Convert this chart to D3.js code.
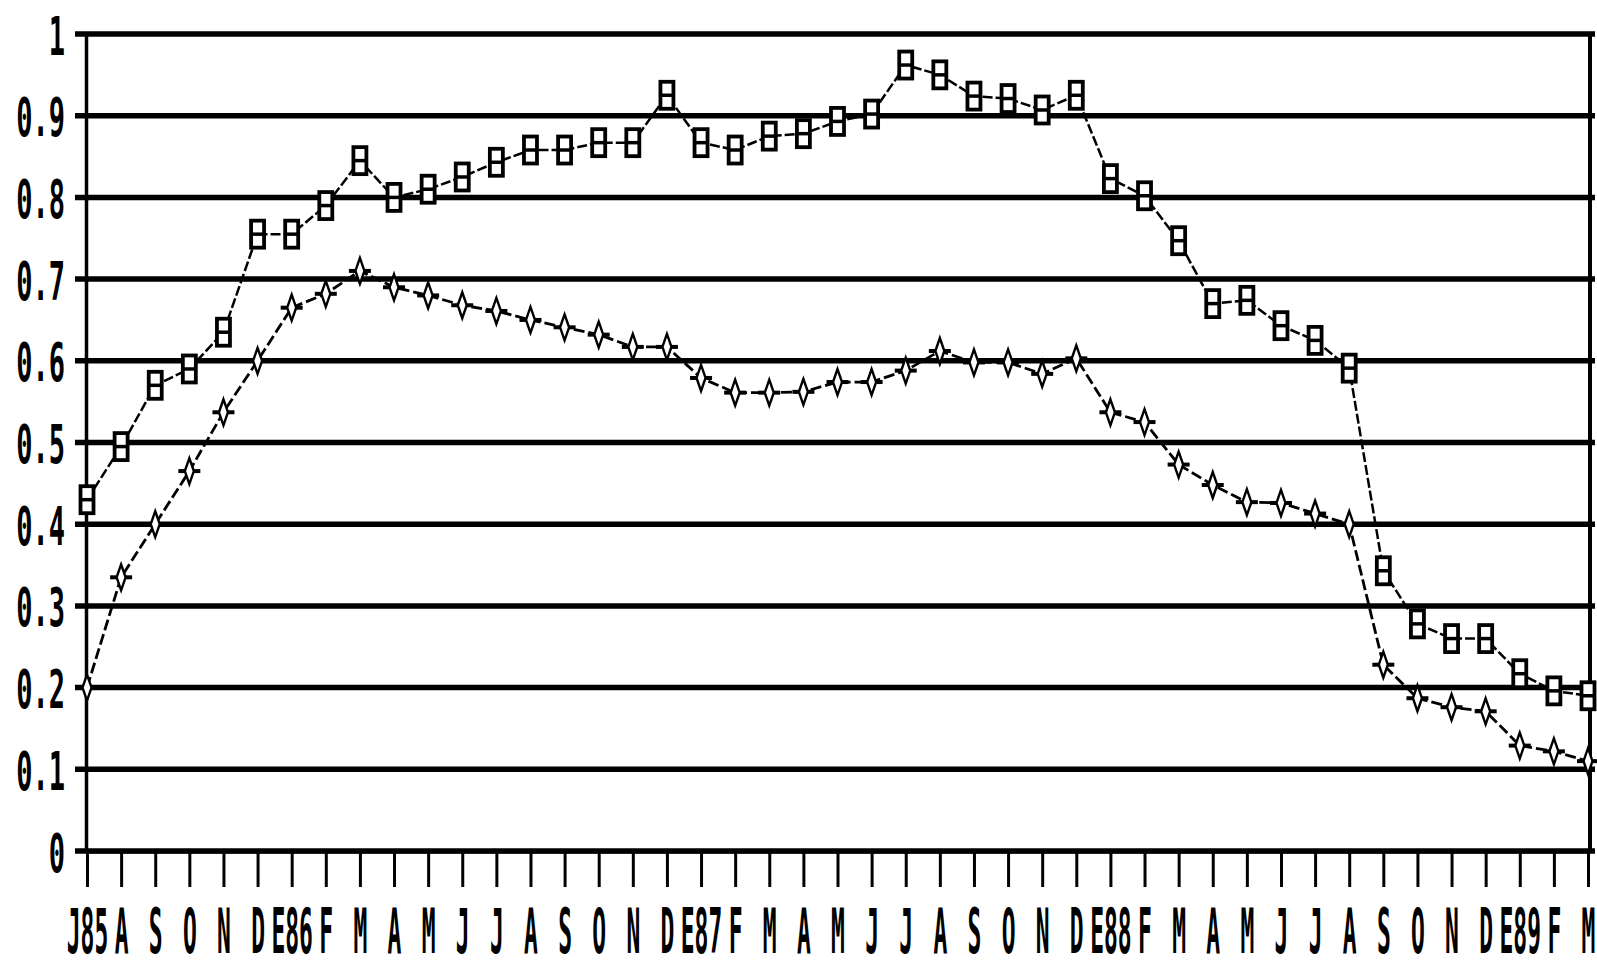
<!DOCTYPE html>
<html>
<head>
<meta charset="utf-8">
<script src="https://cdn.jsdelivr.net/npm/d3@7/dist/d3.min.js"></script>
<style>
  html, body { margin: 0; padding: 0; background: #fff; }
  svg { display: block; }
  text { font-family: "DejaVu Sans Mono", "Liberation Mono", monospace; font-weight: bold; fill: #000; }
</style>
</head>
<body>
<svg id="chart" width="1597" height="968"></svg>
<script>
// Month labels, July 1985 through March 1989 (Spanish initials, E = enero)
const monthLabels = ["J85","A","S","O","N","D","E86","F","M","A","M","J","J","A","S","O","N","D",
  "E87","F","M","A","M","J","J","A","S","O","N","D",
  "E88","F","M","A","M","J","J","A","S","O","N","D",
  "E89","F","M"];

// Upper series (square markers)
const squareSeries = [0.43,0.495,0.57,0.59,0.635,0.755,0.755,0.79,0.845,0.80,0.81,0.825,0.843,0.858,0.858,
  0.867,0.867,0.925,0.867,0.858,0.875,0.878,0.893,0.902,0.962,0.95,0.924,0.921,0.907,0.925,
  0.823,0.802,0.747,0.67,0.674,0.643,0.625,0.591,0.343,0.278,0.26,0.26,0.217,0.196,0.19];

// Lower series (diamond markers)
const diamondSeries = [0.20,0.335,0.40,0.465,0.537,0.60,0.665,0.682,0.71,0.69,0.68,0.668,0.661,0.65,0.641,
  0.632,0.617,0.617,0.579,0.561,0.561,0.562,0.574,0.574,0.588,0.612,0.598,0.598,0.584,0.603,
  0.537,0.525,0.473,0.448,0.427,0.426,0.413,0.40,0.228,0.187,0.176,0.171,0.129,0.122,0.11];

// Value axis ticks and their printed labels
const yTickValues = [0,0.1,0.2,0.3,0.4,0.5,0.6,0.7,0.8,0.9,1];
const yTickLabels = ["0","0.1","0.2","0.3","0.4","0.5","0.6","0.7","0.8","0.9","1"];

const svg = d3.select("#chart");

const x = d3.scaleLinear().domain([0, monthLabels.length - 1]).range([87, 1588]);
const y = d3.scaleLinear().domain([0, 1]).range([851, 34]);

// Horizontal grid rules
svg.append("g").selectAll("line").data(yTickValues).join("line")
  .attr("x1", x(0) - 12).attr("x2", x(monthLabels.length - 1) + 7)
  .attr("y1", d => y(d)).attr("y2", d => y(d))
  .attr("stroke", "#000").attr("stroke-width", 5.5);

// Right frame edge
svg.append("line")
  .attr("x1", x(monthLabels.length - 1) + 2).attr("x2", x(monthLabels.length - 1) + 2)
  .attr("y1", y(1)).attr("y2", y(0))
  .attr("stroke", "#000").attr("stroke-width", 4);

// Value axis
const yAxis = svg.append("g").attr("transform", `translate(${x(0) - 1},0)`)
  .call(d3.axisLeft(y).tickValues(yTickValues)
    .tickFormat((d, i) => yTickLabels[i]).tickSize(0).tickSizeOuter(0));
yAxis.select(".domain").attr("stroke", "#000").attr("stroke-width", 3.5);
yAxis.selectAll("text")
  .attr("x", null).attr("dy", null).attr("y", 0)
  .attr("text-anchor", "end")
  .attr("font-size", 27)
  .attr("transform", "translate(-21,20) scale(1,2)");

// Month axis
const xAxis = svg.append("g").attr("transform", `translate(0,${y(0)})`)
  .call(d3.axisBottom(x).tickValues(d3.range(monthLabels.length))
    .tickFormat(i => monthLabels[i]).tickSizeInner(36).tickSizeOuter(0));
xAxis.select(".domain").attr("stroke", "#000").attr("stroke-width", 4);
xAxis.selectAll(".tick line").attr("stroke", "#000").attr("stroke-width", 3);
xAxis.selectAll("text")
  .attr("y", 0).attr("dy", null)
  .attr("text-anchor", "middle")
  .attr("font-size", 23)
  .attr("transform", "translate(0,102) scale(1,2.7)");

// Series lines
const line = d3.line().x((d, i) => x(i)).y(d => y(d));

svg.append("path").datum(squareSeries)
  .attr("d", line).attr("fill", "none")
  .attr("stroke", "#000").attr("stroke-width", 2.5)
  .attr("stroke-dasharray", "10 3");

svg.append("path").datum(diamondSeries)
  .attr("d", line).attr("fill", "none")
  .attr("stroke", "#000").attr("stroke-width", 2.8)
  .attr("stroke-dasharray", "11 4");

// Square markers
const sq = svg.append("g").selectAll("g").data(squareSeries).join("g")
  .attr("transform", (d, i) => `translate(${x(i)},${y(d)})`);
sq.append("rect")
  .attr("x", -6.5).attr("y", -13.5).attr("width", 13).attr("height", 27)
  .attr("fill", "#fff").attr("stroke", "#000").attr("stroke-width", 3.8);
sq.append("line")
  .attr("x1", -6.5).attr("x2", 6.5).attr("y1", 0).attr("y2", 0)
  .attr("stroke", "#000").attr("stroke-width", 3.5);

// Diamond markers
const dm = svg.append("g").selectAll("g").data(diamondSeries).join("g")
  .attr("transform", (d, i) => `translate(${x(i)},${y(d)})`);
dm.append("line")
  .attr("x1", -11).attr("x2", 11).attr("y1", 0).attr("y2", 0)
  .attr("stroke", "#000").attr("stroke-width", 4);
dm.append("path")
  .attr("d", "M0,-13 L4.5,0 L0,13 L-4.5,0 Z")
  .attr("fill", "#fff").attr("stroke", "#000").attr("stroke-width", 2.4);
</script>
</body>
</html>
